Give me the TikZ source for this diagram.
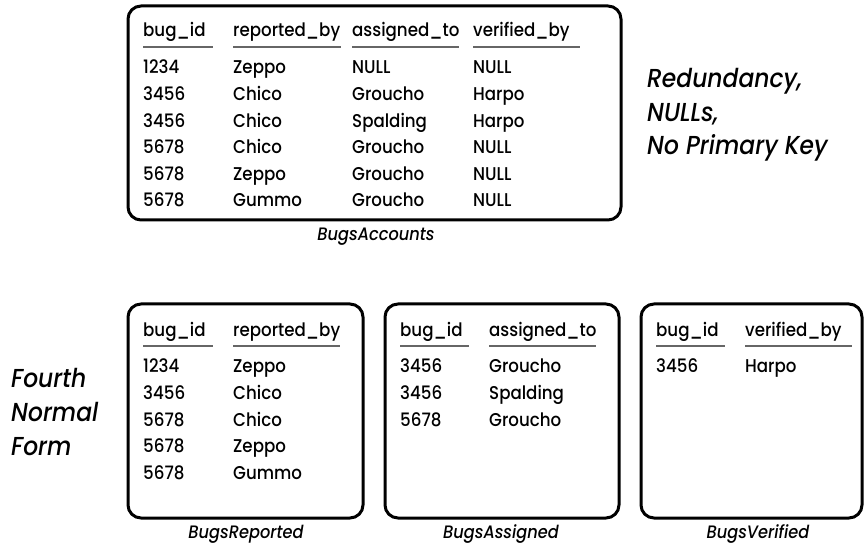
\documentclass[tikz,border=0pt]{standalone}
\usepackage{fontspec}
\setmainfont{Poppins}[UprightFont={* Medium},ItalicFont={* Medium Italic},FakeStretch=0.9]
\begin{document}
\begin{tikzpicture}[x=1pt,y=-1pt,
  tbox/.style={draw=black,line width=3pt,rounded corners=13pt},
  cell/.style={anchor=base west,inner sep=0pt,font=\fontsize{18.5}{20}\selectfont},
  hline/.style={draw=black!60,line width=1.5pt},
  tcaption/.style={anchor=base,inner sep=0pt,font=\fontsize{18}{20}\selectfont\itshape},
  note/.style={anchor=base west,inner sep=0pt,font=\fontsize{26}{30}\selectfont\itshape}]
\useasboundingbox (0,0) rectangle (865,545);
% ---------- top table ----------
\draw[tbox] (128,6) rectangle (621,220);
\node[cell] (a-h1) at (143,37) {bug\_id};
\node[cell] (a-h2) at (233,37) {reported\_by};
\node[cell] (a-h3) at (352,37) {assigned\_to};
\node[cell] (a-h4) at (473,37) {verified\_by};
\draw[hline] (143,47) -- (213,47);
\draw[hline] (233,47) -- (341,47);
\draw[hline] (352,47) -- (459,47);
\draw[hline] (473,47) -- (580,47);
\foreach \i/\y/\a/\b/\c/\d in {1/74/1234/Zeppo/NULL/NULL, 2/100.6/3456/Chico/Groucho/Harpo, 3/127.2/3456/Chico/Spalding/Harpo, 4/153.8/5678/Chico/Groucho/NULL, 5/180.4/5678/Zeppo/Groucho/NULL, 6/207/5678/Gummo/Groucho/NULL}{
  \node[cell] (a-\i-1) at (143,\y) {\a};
  \node[cell] (a-\i-2) at (233,\y) {\b};
  \node[cell] (a-\i-3) at (352,\y) {\c};
  \node[cell] (a-\i-4) at (473,\y) {\d};
}
\node[tcaption] (capA) at (376,241) {BugsAccounts};
\node[note] (noteA1) at (647,88) {Redundancy,};
\node[note] (noteA2) at (647,121.5) {NULLs,};
\node[note] (noteA3) at (647,155) {No Primary Key};
% ---------- bottom tables ----------
\draw[tbox] (128,304) rectangle (363,518);
\draw[tbox] (385,304) rectangle (619,518);
\draw[tbox] (641,304) rectangle (862,518);
% BugsReported
\node[cell] (r-h1) at (143,337) {bug\_id};
\node[cell] (r-h2) at (233,337) {reported\_by};
\draw[hline] (143,346) -- (213,346);
\draw[hline] (233,346) -- (340,346);
\foreach \i/\y/\a/\b in {1/373/1234/Zeppo, 2/399.6/3456/Chico, 3/426.2/5678/Chico, 4/452.8/5678/Zeppo, 5/479.4/5678/Gummo}{
  \node[cell] (r-\i-1) at (143,\y) {\a};
  \node[cell] (r-\i-2) at (233,\y) {\b};
}
\node[tcaption] (capR) at (246,538) {BugsReported};
% BugsAssigned
\node[cell] (s-h1) at (400,337) {bug\_id};
\node[cell] (s-h2) at (489,337) {assigned\_to};
\draw[hline] (400,346) -- (469,346);
\draw[hline] (489,346) -- (596,346);
\foreach \i/\y/\a/\b in {1/373/3456/Groucho, 2/399.6/3456/Spalding, 3/426.2/5678/Groucho}{
  \node[cell] (s-\i-1) at (400,\y) {\a};
  \node[cell] (s-\i-2) at (489,\y) {\b};
}
\node[tcaption] (capS) at (501,538) {BugsAssigned};
% BugsVerified
\node[cell] (v-h1) at (656,337) {bug\_id};
\node[cell] (v-h2) at (745,337) {verified\_by};
\draw[hline] (656,346) -- (725,346);
\draw[hline] (745,346) -- (852,346);
\node[cell] (v-1-1) at (656,373) {3456};
\node[cell] (v-1-2) at (745,373) {Harpo};
\node[tcaption] (capV) at (758,538) {BugsVerified};
% left note
\node[note] (noteB1) at (11,387) {Fourth};
\node[note] (noteB2) at (11,421) {Normal};
\node[note] (noteB3) at (11,455) {Form};
\end{tikzpicture}
\end{document}
